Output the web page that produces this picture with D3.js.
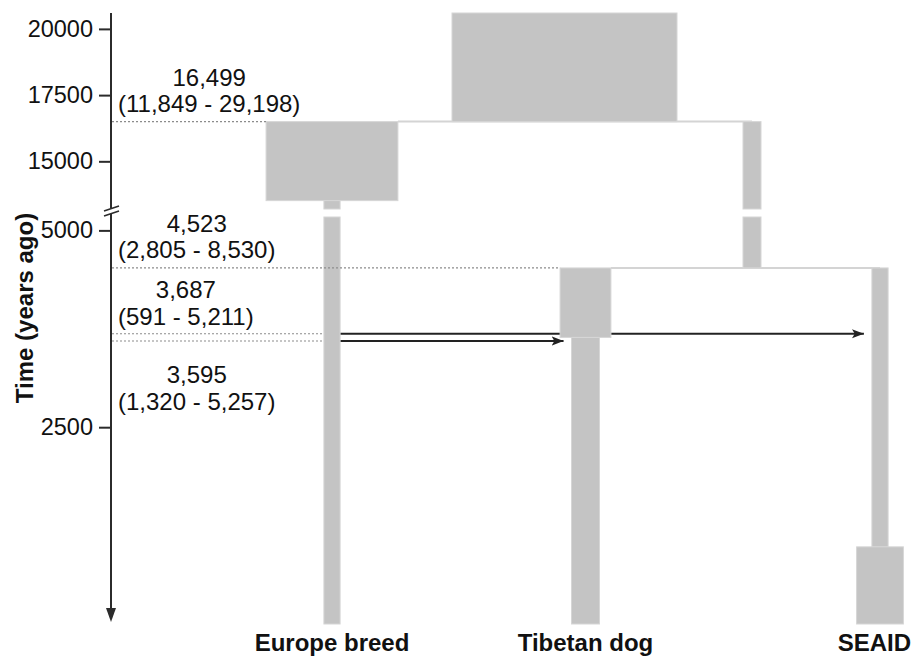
<!DOCTYPE html>
<html>
<head>
<meta charset="utf-8">
<script src="https://cdn.jsdelivr.net/npm/d3@7"></script>
<style>
  html, body { margin: 0; padding: 0; background: #fff; }
  svg { display: block; font-family: "Liberation Sans", Arial, Helvetica, sans-serif; }
</style>
</head>
<body>
<svg id="chart" width="912" height="656"></svg>
<script>
// ---- Data ---------------------------------------------------------------
// Axis ticks (years ago) on the two panels of the broken time axis
const tickValues = [20000, 17500, 15000, 5000, 2500];

// Sampled populations (bottom labels)
const populations = ["Europe breed", "Tibetan dog", "SEAID"];

// Demographic blocks: lineage, older edge, younger edge (years ago), relative Ne
const blockLineage = ["Ancestral", "Europe breed", "Europe breed", "East ancestral",
                      "Tibetan dog", "Tibetan dog", "SEAID", "SEAID"];
const blockStart = [20600, 16499, 13516, 16499, 4523, 3640, 4523, 980];
const blockEnd   = [16499, 13516, 0, 4523, 3640, 0, 980, 0];
const blockNe    = [50000, 29300, 3600, 4000, 11300, 6200, 3600, 10400];

// Population splits with 95% intervals
const splitTimes = [16499, 4523];
const splitLow   = [11849, 2805];
const splitHigh  = [29198, 8530];
const splitLeft  = ["Europe breed", "Tibetan dog"];
const splitRight = ["East ancestral", "SEAID"];

// Admixture pulses with 95% intervals
const pulseTimes  = [3687, 3595];
const pulseLow    = [591, 1320];
const pulseHigh   = [5211, 5257];
const pulseSource = ["Europe breed", "Europe breed"];
const pulseTarget = ["SEAID", "Tibetan dog"];

// ---- Layout -------------------------------------------------------------
const W = 912, H = 656;
const svg = d3.select("#chart");
const fmt = d3.format(",");

// Broken time axis: an upper (old) panel and a lower (recent) panel
const upper = d3.scaleLinear().domain([20600, 13200]).range([13, 209]);
const lower = d3.scaleLinear().domain([5170, 0]).range([217, 624]);
function yOf(t) {
  return t >= upper.domain()[1] ? upper(t) : lower(Math.min(t, lower.domain()[0]));
}

// Horizontal placement of each lineage and width from Ne
const xLineage = d3.scaleOrdinal()
  .domain(["Ancestral", "Europe breed", "East ancestral", "Tibetan dog", "SEAID"])
  .range([564.5, 332, 752, 585.5, 880]);
const wNe = d3.scaleLinear().domain([0, 50000]).range([0, 225]);

const axisX = 111;
const boxFill = "#c4c4c4", boxEdge = "#d6d6d6";

const blocks = blockLineage.map((lin, i) => ({
  lineage: lin, start: blockStart[i], end: blockEnd[i], ne: blockNe[i]
}));
function blockAt(lineage, t) {
  return blocks.find(b => b.lineage === lineage && b.start >= t && b.end < t);
}
function leftEdge(b) { return xLineage(b.lineage) - wNe(b.ne) / 2; }
function rightEdge(b) { return xLineage(b.lineage) + wNe(b.ne) / 2; }

// Split a block into the pieces that fall in each axis panel
function pieces(b) {
  const out = [];
  const [uTop, uBot] = upper.domain();
  const [lTop, lBot] = lower.domain();
  const us = Math.min(b.start, uTop), ue = Math.max(b.end, uBot);
  if (us > ue) out.push([upper(us), upper(ue)]);
  const ls = Math.min(b.start, lTop), le = Math.max(b.end, lBot);
  if (ls > le) out.push([lower(ls), lower(le)]);
  return out;
}

// Arrowhead for admixture pulses
svg.append("defs").append("marker")
  .attr("id", "head").attr("viewBox", "0 -6 14 12")
  .attr("refX", 13).attr("refY", 0)
  .attr("markerWidth", 13).attr("markerHeight", 11)
  .attr("markerUnits", "userSpaceOnUse").attr("orient", "auto")
  .append("path").attr("d", "M0,-5L13,0L0,5L3,0Z").attr("fill", "#222");

// ---- Split connectors (thin light lines) ---------------------------------
const gConn = svg.append("g");
splitTimes.forEach((t, i) => {
  const lb = blockAt(splitLeft[i], t - 1);
  gConn.append("line")
    .attr("x1", rightEdge(lb)).attr("x2", xLineage(splitRight[i]))
    .attr("y1", yOf(t)).attr("y2", yOf(t))
    .attr("stroke", "#d4d4d4").attr("stroke-width", 2);
});

// ---- Admixture arrows (drawn beneath the blocks) -------------------------
const gPulse = svg.append("g");
pulseTimes.forEach((t, i) => {
  const src = blockAt(pulseSource[i], t);
  const dst = blockAt(pulseTarget[i], t);
  gPulse.append("line")
    .attr("x1", rightEdge(src)).attr("x2", leftEdge(dst) - 8)
    .attr("y1", yOf(t)).attr("y2", yOf(t))
    .attr("stroke", "#222").attr("stroke-width", 2)
    .attr("marker-end", "url(#head)");
});

// ---- Population blocks -------------------------------------------------
const gBlocks = svg.append("g");
blocks.forEach(b => {
  pieces(b).forEach(([y0, y1]) => {
    gBlocks.append("rect")
      .attr("x", leftEdge(b)).attr("width", wNe(b.ne))
      .attr("y", y0).attr("height", y1 - y0)
      .attr("fill", boxFill).attr("stroke", boxEdge).attr("stroke-width", 1);
  });
});

// ---- Dotted guides from the axis --------------------------------------
const gGuide = svg.append("g");
function guide(t, xEnd) {
  gGuide.append("line")
    .attr("x1", axisX + 1).attr("x2", xEnd)
    .attr("y1", yOf(t)).attr("y2", yOf(t))
    .attr("stroke", "#8c8c8c").attr("stroke-width", 1.2)
    .attr("stroke-dasharray", "2,2");
}
splitTimes.forEach((t, i) => guide(t, leftEdge(blockAt(splitLeft[i], t - 1))));
pulseTimes.forEach((t, i) => guide(t, leftEdge(blockAt(pulseSource[i], t))));

// ---- Time estimate labels ------------------------------------------------
const gLab = svg.append("g").attr("font-size", 24).attr("fill", "#111");
function estimate(t, lo, hi, dy1, dy2) {
  const y = yOf(t);
  const second = gLab.append("text")
    .attr("x", axisX + 7).attr("y", y + dy2)
    .text(`(${fmt(lo)} - ${fmt(hi)})`);
  const cx = axisX + 7 + second.node().getComputedTextLength() / 2;
  second.attr("x", cx).attr("text-anchor", "middle");
  gLab.append("text")
    .attr("x", cx).attr("y", y + dy1)
    .attr("text-anchor", "middle")
    .text(fmt(t));
}
splitTimes.forEach((t, i) => estimate(t, splitLow[i], splitHigh[i], -36, -10));
estimate(pulseTimes[0], pulseLow[0], pulseHigh[0], -36, -9);
estimate(pulseTimes[1], pulseLow[1], pulseHigh[1], 42, 69);

// ---- Broken time axis ----------------------------------------------------
const axisColor = "#2b2b2b";
function drawAxis(scale, ticks) {
  const g = svg.append("g")
    .attr("transform", `translate(${axisX},0)`)
    .call(d3.axisLeft(scale).tickValues(ticks).tickSize(12).tickPadding(6)
      .tickFormat(d3.format("d")));
  g.select(".domain").remove();
  g.selectAll(".tick line").attr("stroke", axisColor).attr("stroke-width", 2);
  g.selectAll(".tick text")
    .attr("font-family", "\"Liberation Sans\", Arial, sans-serif")
    .attr("font-size", 23.5).attr("fill", "#111");
}
drawAxis(upper, tickValues.filter(t => t >= upper.domain()[1]));
drawAxis(lower, tickValues.filter(t => t <= lower.domain()[0]));

const gAxis = svg.append("g").attr("stroke", axisColor).attr("stroke-width", 2);
const tipY = lower(0) - 2;
gAxis.append("line")
  .attr("x1", axisX).attr("x2", axisX)
  .attr("y1", upper.range()[0]).attr("y2", upper.range()[1] - 1);
gAxis.append("line")
  .attr("x1", axisX).attr("x2", axisX)
  .attr("y1", lower.range()[0] - 3).attr("y2", tipY - 10);
// break marks
[0, 5].forEach(off => {
  gAxis.append("line")
    .attr("x1", axisX - 7).attr("y1", upper.range()[1] + 2 + off)
    .attr("x2", axisX + 8).attr("y2", upper.range()[1] - 3 + off)
    .attr("stroke-width", 1.6);
});
svg.append("path")
  .attr("d", `M${axisX - 5},${tipY - 14}L${axisX + 5},${tipY - 14}L${axisX},${tipY}Z`)
  .attr("fill", axisColor);

// Axis title
svg.append("text")
  .attr("transform", "translate(25,308) rotate(-90)")
  .attr("text-anchor", "middle").attr("dy", "0.35em")
  .attr("font-size", 24).attr("font-weight", "bold").attr("fill", "#111")
  .text("Time (years ago)");

// ---- Population names ----------------------------------------------------
const gNames = svg.append("g")
  .attr("font-size", 24).attr("font-weight", "bold").attr("fill", "#111");
populations.forEach(p => {
  const t = gNames.append("text")
    .attr("x", xLineage(p)).attr("y", 651)
    .attr("text-anchor", "middle").text(p);
  const bb = t.node().getBBox();
  if (bb.x + bb.width > W - 1) t.attr("x", xLineage(p) - (bb.x + bb.width - (W - 1)));
});
</script>
</body>
</html>
